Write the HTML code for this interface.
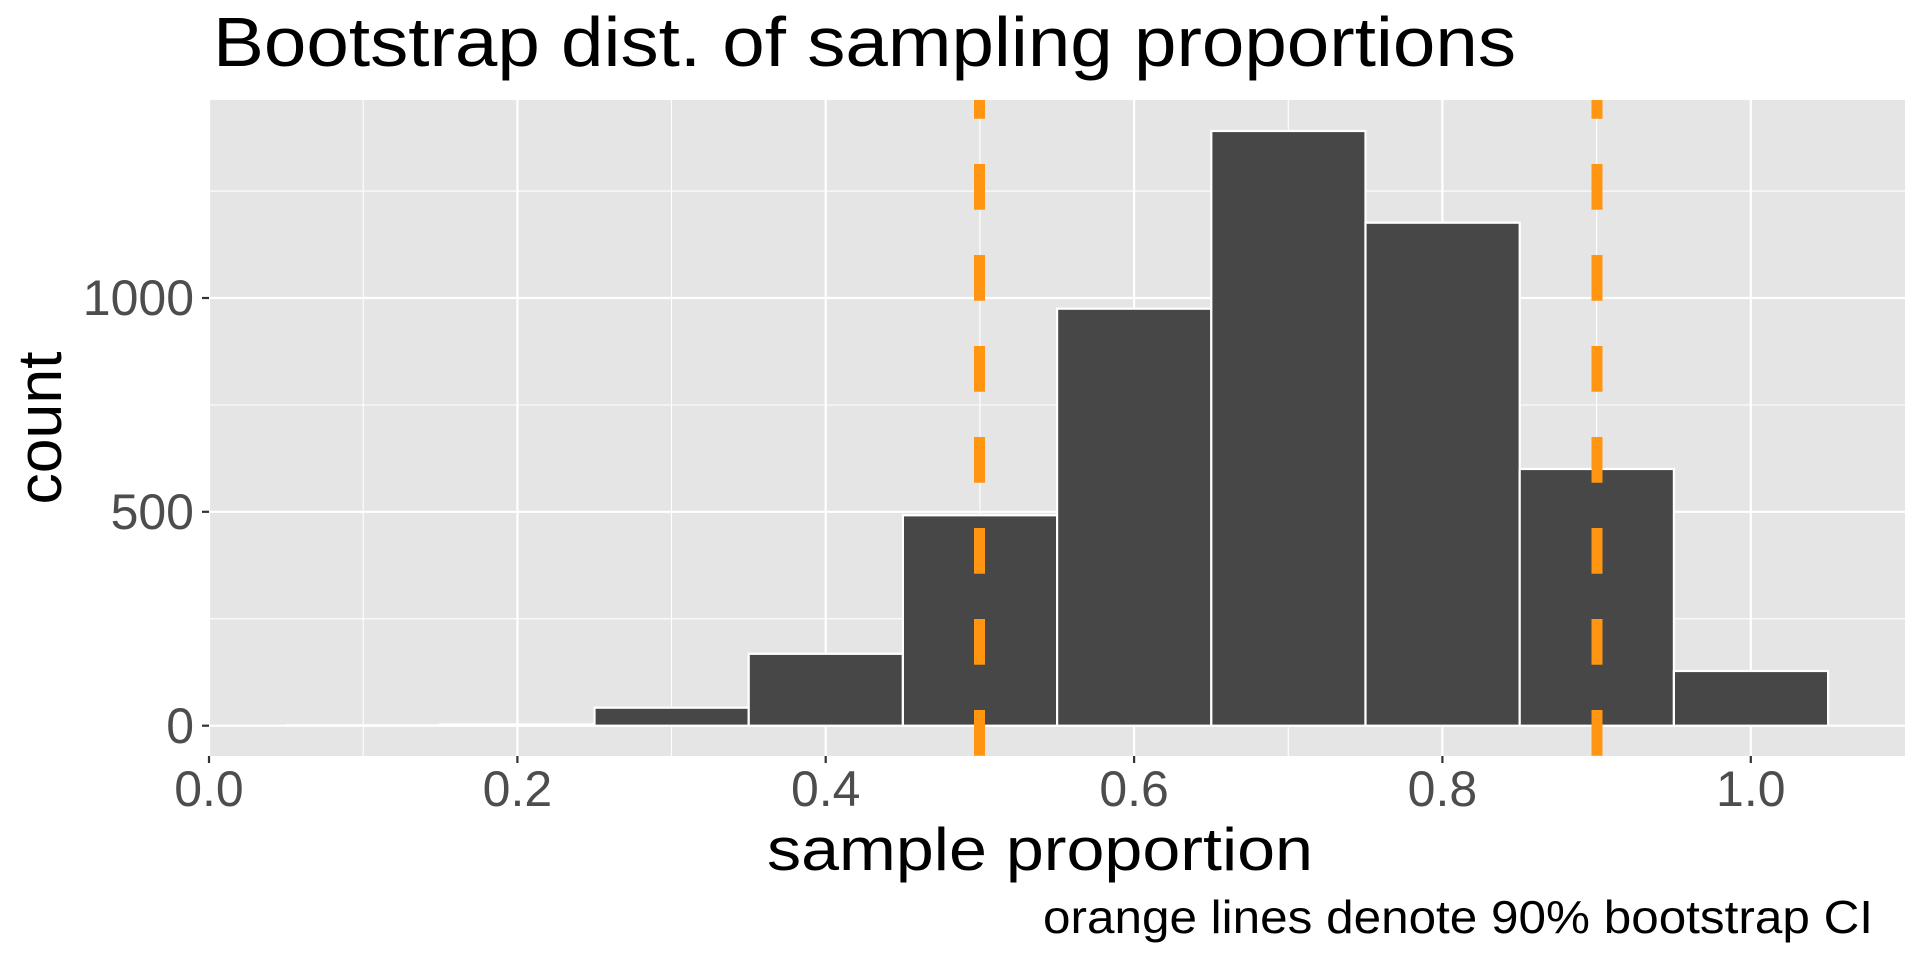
<!DOCTYPE html>
<html><head><meta charset="utf-8"><style>html,body{margin:0;padding:0;background:#fff}svg{display:block}</style></head>
<body>
<svg width="1920" height="960" xmlns="http://www.w3.org/2000/svg" font-family="Liberation Sans, Arial, sans-serif">
<defs><clipPath id="p"><rect x="209" y="100" width="1696" height="656"/></clipPath></defs>
<rect x="209" y="100" width="1696" height="656" fill="#e5e5e5"/>
<g stroke="#fff" stroke-width="1.1">
<line x1="363.2" y1="100" x2="363.2" y2="756"/><line x1="671.5" y1="100" x2="671.5" y2="756"/><line x1="979.9" y1="100" x2="979.9" y2="756"/><line x1="1288.3" y1="100" x2="1288.3" y2="756"/><line x1="1596.6" y1="100" x2="1596.6" y2="756"/>
<line x1="209" y1="618.8" x2="1905" y2="618.8"/><line x1="209" y1="405" x2="1905" y2="405"/><line x1="209" y1="191.1" x2="1905" y2="191.1"/>
</g>
<g stroke="#fff" stroke-width="2.2">
<line x1="209" y1="100" x2="209" y2="756"/><line x1="517.4" y1="100" x2="517.4" y2="756"/><line x1="825.7" y1="100" x2="825.7" y2="756"/><line x1="1134.1" y1="100" x2="1134.1" y2="756"/><line x1="1442.4" y1="100" x2="1442.4" y2="756"/><line x1="1750.8" y1="100" x2="1750.8" y2="756"/>
<line x1="209" y1="725.7" x2="1905" y2="725.7"/><line x1="209" y1="511.8" x2="1905" y2="511.8"/><line x1="209" y1="298" x2="1905" y2="298"/>
</g>
<g fill="#474747" stroke="#fff" stroke-width="2.2">
<rect x="286.1" y="725.3" width="154.2" height="0.4"/>
<rect x="440.3" y="724.4" width="154.2" height="1.3"/>
<rect x="594.5" y="707.7" width="154.2" height="18"/>
<rect x="748.7" y="653.8" width="154.2" height="71.9"/>
<rect x="902.9" y="515.3" width="154.2" height="210.4"/>
<rect x="1057.1" y="308.7" width="154.2" height="417"/>
<rect x="1211.3" y="131" width="154.2" height="594.7"/>
<rect x="1365.5" y="222.7" width="154.2" height="503"/>
<rect x="1519.7" y="469" width="154.2" height="256.7"/>
<rect x="1673.9" y="671" width="154.2" height="54.7"/>
</g>
<g clip-path="url(#p)" stroke="#ff9510" stroke-width="11" stroke-dasharray="45.7 45.3">
<line x1="979.5" y1="73" x2="979.5" y2="800"/>
<line x1="1597" y1="73" x2="1597" y2="800"/>
</g>
<g stroke="#333" stroke-width="2.2">
<line x1="202" y1="725.7" x2="209" y2="725.7"/><line x1="202" y1="511.8" x2="209" y2="511.8"/><line x1="202" y1="298" x2="209" y2="298"/>
<line x1="209" y1="756" x2="209" y2="763"/><line x1="517.4" y1="756" x2="517.4" y2="763"/><line x1="825.7" y1="756" x2="825.7" y2="763"/><line x1="1134.1" y1="756" x2="1134.1" y2="763"/><line x1="1442.4" y1="756" x2="1442.4" y2="763"/><line x1="1750.8" y1="756" x2="1750.8" y2="763"/>
</g>
<g fill="#4d4d4d" font-size="50" text-anchor="end">
<text x="194" y="743">0</text><text x="194" y="529">500</text><text x="194" y="315">1000</text>
</g>
<g fill="#4d4d4d" font-size="50" text-anchor="middle">
<text x="209" y="806">0.0</text><text x="517.4" y="806">0.2</text><text x="825.7" y="806">0.4</text><text x="1134.1" y="806">0.6</text><text x="1442.4" y="806">0.8</text><text x="1750.8" y="806">1.0</text>
</g>
<text x="213" y="66" font-size="70" fill="#000" textLength="1303" lengthAdjust="spacingAndGlyphs">Bootstrap dist. of sampling proportions</text>
<text x="767" y="870" font-size="60" fill="#000" textLength="546" lengthAdjust="spacingAndGlyphs">sample proportion</text>
<text transform="translate(61,428) rotate(-90)" font-size="62" fill="#000" text-anchor="middle" textLength="153" lengthAdjust="spacingAndGlyphs">count</text>
<text x="1043" y="933" font-size="46" fill="#000" textLength="830" lengthAdjust="spacingAndGlyphs">orange lines denote 90% bootstrap CI</text>
</svg>
</body></html>
